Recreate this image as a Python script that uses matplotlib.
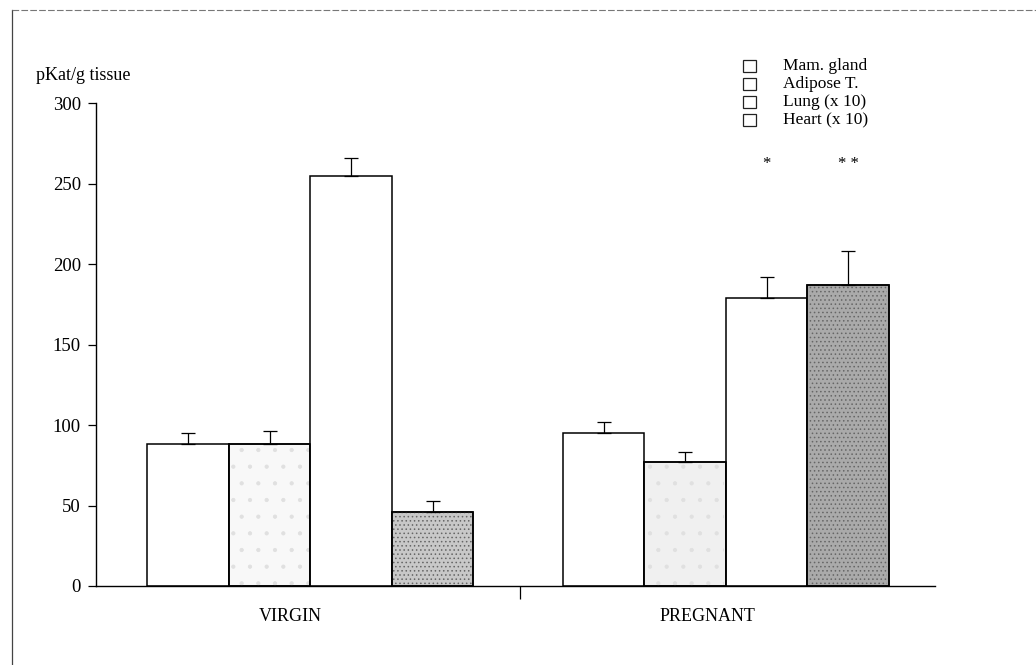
import matplotlib
matplotlib.use("Agg")
import matplotlib.pyplot as plt
from matplotlib.patches import Rectangle
from matplotlib.lines import Line2D
import numpy as np

plt.rcParams['font.family'] = ['Liberation Serif', 'DejaVu Serif']

# data
groups = ['VIRGIN', 'PREGNANT']
series = ['Mam. gland', 'Adipose T.', 'Lung (x 10)', 'Heart (x 10)']
means = {
    'Mam. gland':   [88, 95],
    'Adipose T.':   [88, 77],
    'Lung (x 10)':  [255, 179],
    'Heart (x 10)': [46, 187],
}
sem = {
    'Mam. gland':   [7, 7],
    'Adipose T.':   [8, 6],
    'Lung (x 10)':  [11, 13],
    'Heart (x 10)': [7, 21],
}
stars = {('PREGNANT', 'Lung (x 10)'): '*', ('PREGNANT', 'Heart (x 10)'): '* *'}

# styles
faces = {'Mam. gland': ['white', 'white'],
         'Adipose T.': ['#f8f8f8', '#f0f0f0'],
         'Lung (x 10)': ['white', 'white'],
         'Heart (x 10)': ['#c8c8c8', '#aaaaaa']}
hatches = {'Mam. gland': None, 'Adipose T.': '.', 'Lung (x 10)': None, 'Heart (x 10)': '....'}
hatch_col = {'Adipose T.': '#e0e0e0', 'Heart (x 10)': '#666666'}

fig = plt.figure(figsize=(10.36, 6.65), dpi=100)
ax = fig.add_axes([0.0927, 0.1188, 0.81, 0.7262])

centers = np.array([2.63, 7.73])
offs = [-1.5, -0.5, 0.5, 1.5]
w = 1.0
plt.rcParams['hatch.linewidth'] = 0.6

for i, s in enumerate(series):
    x = centers + offs[i]
    ax.bar(x, means[s], width=w, color=faces[s], edgecolor='black', linewidth=1.1, zorder=2)
    if hatches[s]:
        ax.bar(x, means[s], width=w - 0.04, color='none', edgecolor=hatch_col[s],
               hatch=hatches[s], linewidth=0, zorder=2.5)
        ax.bar(x, means[s], width=w, color='none', edgecolor='black', linewidth=1.1, zorder=2.6)
    ax.errorbar(x, means[s], yerr=[np.zeros(2), sem[s]], fmt='none', ecolor='black',
                elinewidth=0.9, capsize=5, capthick=0.9, zorder=3)
    for gi, g in enumerate(groups):
        if (g, s) in stars:
            ax.text(x[gi], 262, stars[(g, s)], ha='center', va='center', fontsize=12)

ax.set_xlim(0, 10.3)
ax.set_ylim(0, 300)
ax.set_yticks([0, 50, 100, 150, 200, 250, 300])
ax.tick_params(axis='y', direction='out', length=6, width=0.9, labelsize=13.5, pad=5)
ax.set_xticks([5.2])
ax.set_xticklabels([''])
ax.tick_params(axis='x', direction='out', length=9, width=0.9)
for sp in ['top', 'right']:
    ax.spines[sp].set_visible(False)
ax.spines['left'].set_linewidth(1.0)
ax.spines['bottom'].set_linewidth(1.0)

for g, xl in zip(groups, [2.38, 7.51]):
    ax.text(xl, -19, g, ha='center', va='center', fontsize=13)

fig.text(36 / 1036, 1 - 75 / 665, 'pKat/g tissue', ha='left', va='center', fontsize=13)

# legend drawn by hand (open boxes)
for i, s in enumerate(series):
    yc = 66 + i * 18
    fig.patches.append(Rectangle((743 / 1036, 1 - (yc + 6) / 665), 13 / 1036, 12 / 665,
                                 transform=fig.transFigure, facecolor='white',
                                 edgecolor='#222222', linewidth=0.9))
    fig.text(783 / 1036, 1 - yc / 665, s, ha='left', va='center', fontsize=12.5)

# scanned frame edges
fig.lines.append(Line2D([12 / 1036, 12 / 1036], [1 - 10 / 665, 0], transform=fig.transFigure,
                        color='#444444', linewidth=0.9))
fig.lines.append(Line2D([12 / 1036, 1], [1 - 10 / 665, 1 - 10 / 665], transform=fig.transFigure,
                        color='#777777', linewidth=0.8, linestyle=(0, (6, 2))))

fig.savefig('out.png', dpi=100, facecolor='white')
